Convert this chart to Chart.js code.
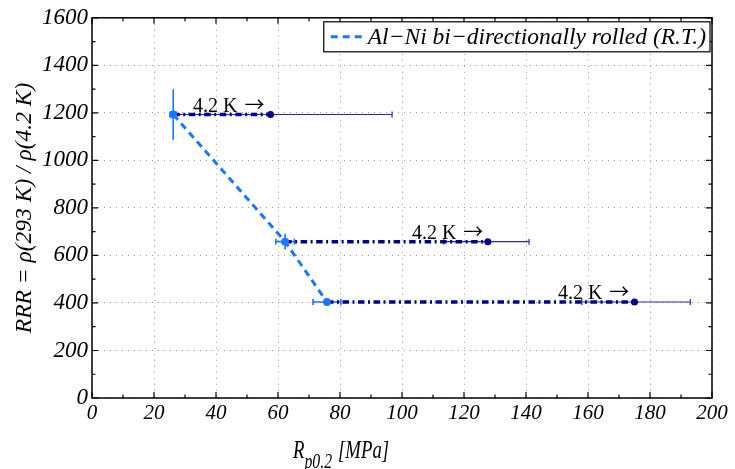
<!DOCTYPE html>
<html>
<head>
<meta charset="utf-8">
<script src="https://cdn.jsdelivr.net/npm/chart.js@4.4.1/dist/chart.umd.min.js"></script>
<style>
html, body { margin: 0; padding: 0; background: #fff; }
#wrap { width: 735px; height: 469px; }
</style>
</head>
<body>
<div id="wrap"><canvas id="myChart" width="735" height="469"></canvas></div>
<script>
// RRR levels (shared by both temperatures)
const rrr = [1193, 658, 404];
// room temperature Rp0.2 and error bars
const xRT = [26.2, 62.3, 75.8];
const xErrRT = [1, 3, 4.5];
const yErrRT = [106, 33, 0];
// 4.2 K Rp0.2 and error range
const x42 = [57.6, 127.7, 175];
const x42Lo = [26.5, 113.5, 158];
const x42Hi = [96.8, 141, 193];
// where the "4.2 K ->" notes start
const noteX = [32.6, 103.2, 150.3];
const noteText = '4.2 K ';
const legendText = 'Al\u2212Ni bi\u2212directionally rolled (R.T.)';
const xTickVals = [0, 20, 40, 60, 80, 100, 120, 140, 160, 180, 200];
const yTickVals = [0, 200, 400, 600, 800, 1000, 1200, 1400, 1600];

const serif = '"Liberation Serif", "DejaVu Serif", serif';
const rtBlue = '#1a78ff';
const navy = '#00008c';

const datasets = [{
    label: legendText,
    data: xRT.map((v, i) => ({ x: v, y: rrr[i] })),
    showLine: true,
    borderColor: rtBlue,
    backgroundColor: rtBlue,
    borderWidth: 3,
    borderDash: [7, 5],
    pointRadius: 4,
    pointBorderWidth: 0,
    order: 1
}];
xRT.forEach((v, i) => {
    datasets.push({
        label: 'link' + i,
        data: [{ x: v, y: rrr[i] }, { x: x42[i], y: rrr[i] }],
        showLine: true,
        borderColor: navy,
        borderWidth: 3.5,
        borderDash: [6.5, 3.5, 2, 3.5],
        pointRadius: 0,
        order: 2
    });
});
datasets.push({
    label: 'cold',
    data: x42.map((v, i) => ({ x: v, y: rrr[i] })),
    showLine: false,
    backgroundColor: navy,
    borderColor: navy,
    pointRadius: 3.5,
    pointBorderWidth: 0,
    order: 0
});

const deco = {
    id: 'deco',
    beforeDatasetsDraw(chart) {
        const { ctx, scales: { x, y } } = chart;
        ctx.save();
        // 4.2 K error bars
        ctx.strokeStyle = '#2a2aa6';
        ctx.lineWidth = 1.2;
        x42.forEach((v, i) => {
            const py = y.getPixelForValue(rrr[i]);
            const a = x.getPixelForValue(x42Lo[i]);
            const b = x.getPixelForValue(x42Hi[i]);
            ctx.beginPath();
            ctx.moveTo(a, py); ctx.lineTo(b, py);
            ctx.moveTo(a, py - 3); ctx.lineTo(a, py + 3);
            ctx.moveTo(b, py - 3); ctx.lineTo(b, py + 3);
            ctx.stroke();
        });
        // RT error bars
        ctx.strokeStyle = rtBlue;
        ctx.lineWidth = 1.6;
        xRT.forEach((v, i) => {
            const px = x.getPixelForValue(v);
            const py = y.getPixelForValue(rrr[i]);
            ctx.beginPath();
            if (xErrRT[i]) {
                const a = x.getPixelForValue(v - xErrRT[i]);
                const b = x.getPixelForValue(v + xErrRT[i]);
                ctx.moveTo(a, py); ctx.lineTo(b, py);
                ctx.moveTo(a, py - 3); ctx.lineTo(a, py + 3);
                ctx.moveTo(b, py - 3); ctx.lineTo(b, py + 3);
            }
            if (yErrRT[i]) {
                ctx.moveTo(px, y.getPixelForValue(rrr[i] - yErrRT[i]));
                ctx.lineTo(px, y.getPixelForValue(rrr[i] + yErrRT[i]));
            }
            ctx.stroke();
        });
        ctx.restore();
    },
    afterDraw(chart) {
        const { ctx, chartArea: ca, scales: { x, y } } = chart;
        ctx.save();
        // box
        ctx.strokeStyle = '#000';
        ctx.lineWidth = 1.5;
        ctx.strokeRect(ca.left, ca.top, ca.right - ca.left, ca.bottom - ca.top);
        // inward ticks, all four sides
        ctx.lineWidth = 1.2;
        ctx.beginPath();
        for (let v = 0; v <= 200; v += 10) {
            const px = x.getPixelForValue(v);
            const len = v % 20 === 0 ? 6 : 3.5;
            ctx.moveTo(px, ca.bottom); ctx.lineTo(px, ca.bottom - len);
            ctx.moveTo(px, ca.top); ctx.lineTo(px, ca.top + len);
        }
        for (let v = 0; v <= 1600; v += 100) {
            const py = y.getPixelForValue(v);
            const len = v % 200 === 0 ? 6 : 3.5;
            ctx.moveTo(ca.left, py); ctx.lineTo(ca.left + len, py);
            ctx.moveTo(ca.right, py); ctx.lineTo(ca.right - len, py);
        }
        ctx.stroke();

        // notes
        ctx.fillStyle = '#000';
        ctx.textBaseline = 'alphabetic';
        ctx.textAlign = 'left';
        noteX.forEach((v, i) => {
            const px = x.getPixelForValue(v);
            const py = y.getPixelForValue(rrr[i]) - 3;
            ctx.font = '20px ' + serif;
            ctx.fillText(noteText, px, py);
            const w = ctx.measureText(noteText).width;
            ctx.font = '20px "Noto Sans CJK SC", sans-serif';
            ctx.fillText('\u2192', px + w + 2, py);
        });

        // legend
        ctx.font = 'italic 23.5px ' + serif;
        const tw = ctx.measureText(legendText).width;
        const bw = tw + 48, bh = 30;
        const bx = ca.right - 2 - bw, by = ca.top + 4;
        ctx.fillStyle = '#fff';
        ctx.fillRect(bx, by, bw, bh);
        ctx.strokeStyle = '#000';
        ctx.lineWidth = 1.2;
        ctx.strokeRect(bx, by, bw, bh);
        ctx.strokeStyle = rtBlue;
        ctx.lineWidth = 3;
        ctx.setLineDash([7, 5]);
        ctx.beginPath();
        ctx.moveTo(bx + 7, by + bh / 2); ctx.lineTo(bx + 40, by + bh / 2);
        ctx.stroke();
        ctx.setLineDash([]);
        ctx.fillStyle = '#000';
        ctx.textBaseline = 'middle';
        ctx.fillText(legendText, bx + 44, by + bh / 2 + 1);

        // x title with subscript (narrow face like the original)
        ctx.save();
        ctx.textBaseline = 'alphabetic';
        ctx.translate(ca.left + 201, 458);
        ctx.scale(0.75, 1);
        let tx = 0;
        ctx.font = 'italic 25px ' + serif;
        ctx.fillText('R', tx, 0);
        tx += ctx.measureText('R').width;
        ctx.font = 'italic 21px ' + serif;
        ctx.fillText('p0.2', tx, 10);
        tx += ctx.measureText('p0.2').width + 8;
        ctx.font = 'italic 25px ' + serif;
        ctx.fillText('[MPa]', tx, 0);
        ctx.restore();

        // y title
        ctx.translate(25, (ca.top + ca.bottom) / 2);
        ctx.rotate(-Math.PI / 2);
        ctx.textAlign = 'center';
        ctx.textBaseline = 'middle';
        ctx.font = 'italic 23.5px ' + serif;
        ctx.fillText('RRR = \u03c1(293 K) / \u03c1(4.2 K)', 0, 0);
        ctx.restore();
    }
};

const ctx = document.getElementById('myChart').getContext('2d');
new Chart(ctx, {
    type: 'scatter',
    data: { datasets: datasets },
    options: {
        responsive: false,
        animation: false,
        devicePixelRatio: 1,
        layout: { padding: { left: 0, top: 14, right: 23, bottom: 0 } },
        plugins: { legend: { display: false }, tooltip: { enabled: false } },
        scales: {
            x: {
                min: 0, max: 200,
                afterBuildTicks: s => { s.ticks = xTickVals.map(v => ({ value: v })); },
                afterFit: s => { s.height = 71; },
                grid: { color: '#9a9a9a', lineWidth: 1, drawTicks: false },
                border: { display: false, dash: [1, 5] },
                ticks: {
                    padding: 3,
                    color: '#000',
                    maxRotation: 0,
                    callback: v => String(v),
                    font: { family: serif, style: 'italic', size: 21 }
                }
            },
            y: {
                min: 0, max: 1600,
                afterBuildTicks: s => { s.ticks = yTickVals.map(v => ({ value: v })); },
                afterFit: s => { s.width = 92; },
                grid: { color: '#9a9a9a', lineWidth: 1, drawTicks: false },
                border: { display: false, dash: [1, 5] },
                ticks: {
                    padding: 4,
                    color: '#000',
                    callback: v => String(v),
                    font: { family: serif, style: 'italic', size: 23 }
                }
            }
        }
    },
    plugins: [deco]
});
</script>
</body>
</html>
